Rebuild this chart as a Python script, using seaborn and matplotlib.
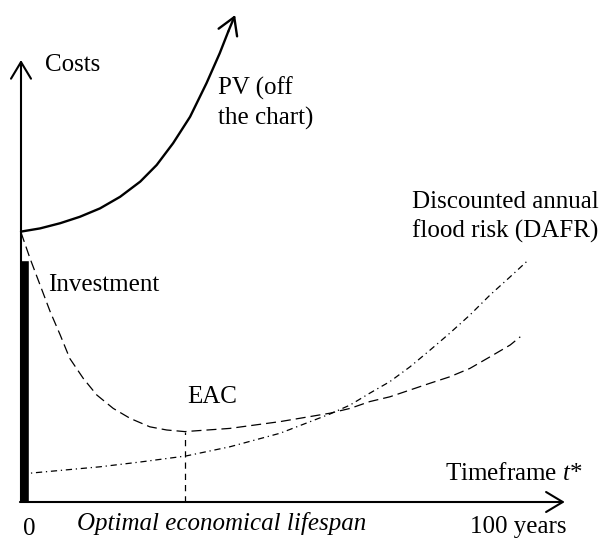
import seaborn as sns
import matplotlib.pyplot as plt
import pandas as pd

# schematic values (years, cost units)
pv_years = [0, 3.6, 7.4, 11.1, 14.9, 18.7, 22.5, 25.6, 28.7, 31.9, 35.0, 37.5, 39.1]
pv_cost = [67.6, 68.4, 69.7, 71.3, 73.4, 76.3, 80.1, 84.25, 89.7, 96.3, 104.7, 112.2, 117.6]
pv_tip = (40.4, 121.75)

eac_years = [0, 1.7, 3.6, 5.5, 7.4, 9.2, 11.75, 14.3, 17.4, 20.6, 24.3, 27.5, 30.9,
             39.4, 48.9, 58.3, 62.1, 65.8, 69.6, 73.4, 77.2, 80.9, 84.7, 88.5, 92.3, 94.2]
eac_cost = [67.4, 60.9, 54.25, 47.6, 41.75, 35.9, 30.9, 26.75, 23.4, 20.9, 18.8, 18.0, 17.6,
            18.4, 20.1, 22.2, 23.4, 25.1, 26.3, 28.0, 29.7, 31.3, 33.4, 36.3, 39.25, 41.3]

dafr_years = [0, 14.9, 22.5, 31.1, 39.4, 48.9, 58.3, 62.1, 65.8, 69.6, 73.4, 77.2,
              80.9, 84.7, 88.5, 92.3, 95.4]
dafr_cost = [7.0, 8.8, 10.0, 11.5, 13.8, 17.2, 22.0, 24.25, 27.2, 30.1, 33.8, 38.0,
             42.2, 46.75, 51.75, 56.3, 60.1]

investment_cost = 60.5
optimal_year = 30.9
optimal_cost = 17.6
axis_top = 110.5
axis_right = 102.6

pv = pd.DataFrame({"year": pv_years, "cost": pv_cost})
eac = pd.DataFrame({"year": eac_years, "cost": eac_cost})
dafr = pd.DataFrame({"year": dafr_years, "cost": dafr_cost})

sns.set_style("white")
plt.rcParams["font.family"] = ["Liberation Serif", "DejaVu Serif"]
plt.rcParams["text.color"] = "black"
plt.rcParams["mathtext.fontset"] = "custom"
plt.rcParams["mathtext.rm"] = "Liberation Serif"
plt.rcParams["mathtext.it"] = "Liberation Serif:italic"

fig = plt.figure(figsize=(6.09, 5.4), dpi=100)
ax = fig.add_axes([0, 0, 1, 1])
ax.set_xlim(-21 / 5.3, 588 / 5.3)
ax.set_ylim(-38 / 4, 502 / 4)
ax.axis("off")

# investment bar
ax.bar(-0.1, investment_cost, width=1.55, align="edge", color="black")

# axes with arrows
arrow = dict(arrowstyle="->,head_length=0.6,head_width=0.36", lw=1.5,
             color="black", mutation_scale=20, shrinkA=0, shrinkB=0)
ax.annotate("", xy=(0, axis_top), xytext=(0, 0), arrowprops=arrow)
ax.annotate("", xy=(axis_right, 0), xytext=(-0.2, 0), arrowprops=arrow)

# curves
sns.lineplot(data=pv, x="year", y="cost", ax=ax, color="black", lw=1.7, sort=False)
ax.annotate("", xy=pv_tip, xytext=(pv_years[-1], pv_cost[-1]),
            arrowprops=dict(arrow, lw=1.7))
sns.lineplot(data=eac, x="year", y="cost", ax=ax, color="black", lw=0.9,
             sort=False).lines[-1].set_dashes([8, 4])
sns.lineplot(data=dafr, x="year", y="cost", ax=ax, color="black", lw=0.9,
             sort=False).lines[-1].set_dashes([5, 3, 1, 3])
ax.plot([optimal_year, optimal_year], [0, optimal_cost], color="black",
        lw=0.9, dashes=[5, 4])


def px(x, y):
    return x / 609, 1 - y / 540


fs = 18
fig.text(*px(45, 71), "Costs", fontsize=fs, va="baseline")
fig.text(*px(218, 95), "PV (off", fontsize=fs, va="baseline")
fig.text(*px(218, 125), "the chart)", fontsize=fs, va="baseline")
fig.text(*px(412, 208), "Discounted annual", fontsize=fs, va="baseline")
fig.text(*px(412, 238), "flood risk (DAFR)", fontsize=fs, va="baseline")
fig.text(*px(48, 291), "Investment", fontsize=fs, va="baseline")
fig.text(*px(187, 403), "EAC", fontsize=fs, va="baseline")
fig.text(*px(445, 480), "Timeframe $t$*", fontsize=fs, va="baseline")
fig.text(*px(23, 535), "0", fontsize=fs, va="baseline")
fig.text(*px(77, 530), "Optimal economical lifespan", fontsize=fs,
         style="italic", va="baseline")
fig.text(*px(470, 533), "100 years", fontsize=fs, va="baseline")

fig.savefig("out.png", dpi=100)
